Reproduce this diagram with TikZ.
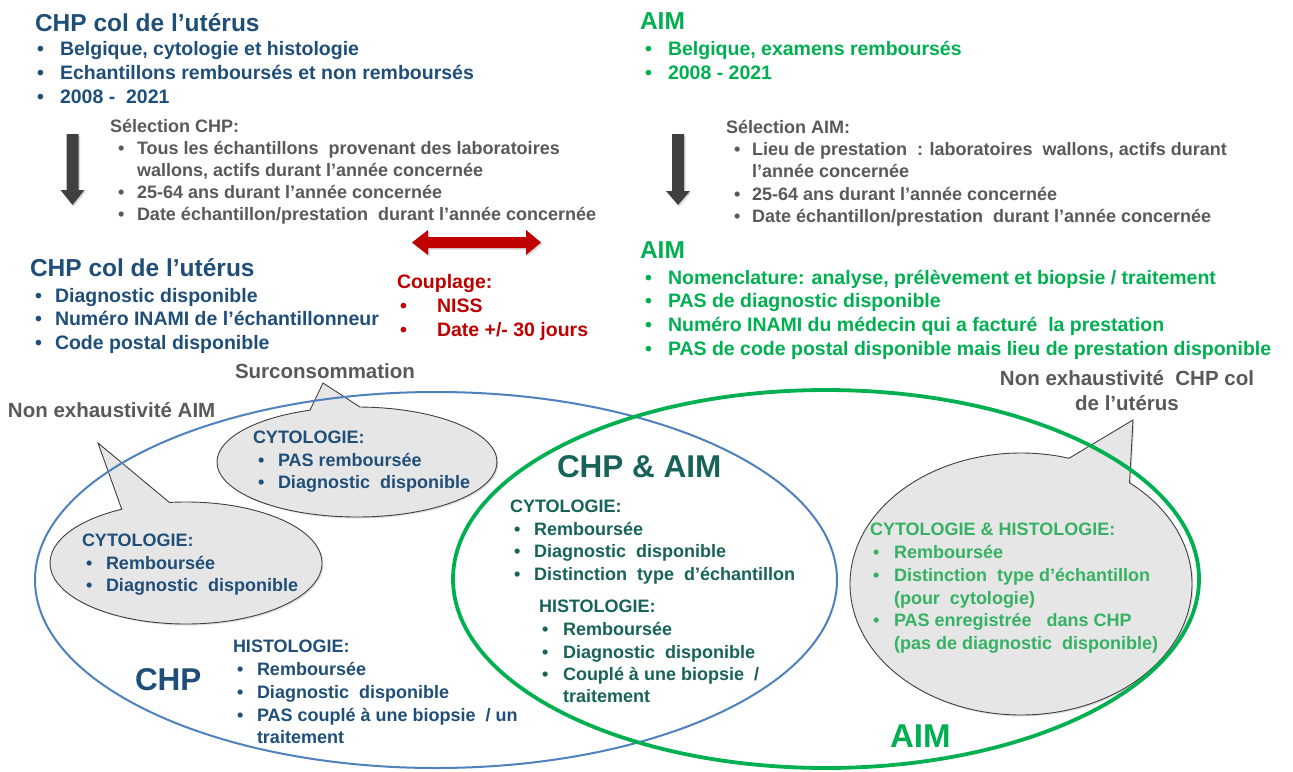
\documentclass[tikz,border=0pt]{standalone}
\usepackage{fontspec}
\setmainfont{Liberation Sans}
\usetikzlibrary{shadows}
\definecolor{cblue}{RGB}{31,78,121}
\definecolor{cgreen}{RGB}{0,176,80}
\definecolor{clgreen}{RGB}{52,178,98}
\definecolor{cteal}{RGB}{23,99,90}
\definecolor{cgray}{RGB}{89,89,89}
\definecolor{cred}{RGB}{192,0,0}
\definecolor{cline}{RGB}{79,129,189}
\definecolor{cbub}{RGB}{230,230,230}
\definecolor{cdark}{RGB}{64,64,64}
\newcommand\bitem[6]{\node[txt,#5] (#1b) at (#2,#4) {•};\node[txt,#5] (#1) at (#3,#4) {#6};}
\tikzset{
 txt/.style={anchor=base west, inner sep=0pt, outer sep=0pt},
 ttl/.style={font=\fontsize{24.5}{28}\selectfont\bfseries},
 fa/.style={font=\fontsize{19.5}{22}\selectfont\bfseries},
 fs/.style={font=\fontsize{18}{21}\selectfont\bfseries},
 fl/.style={font=\fontsize{20.5}{25}\selectfont\bfseries},
 fb/.style={font=\fontsize{18}{21}\selectfont\bfseries},
 fbig/.style={font=\fontsize{31.5}{34}\selectfont\bfseries},
 bubble/.style={fill=cbub, draw=cdark, line width=0.9pt, drop shadow={opacity=0.25, shadow xshift=1.5pt, shadow yshift=-1.5pt}},
 blockarrow/.style={fill=cdark, drop shadow={opacity=0.3, shadow xshift=1.5pt, shadow yshift=-1.5pt}},
}
\begin{document}
\begin{tikzpicture}[x=1pt,y=-1pt]
\useasboundingbox[fill=white] (0,0) rectangle (1293,771);

% bubbles
\path[bubble] (357,462) ++(-88.8:140 and 55) arc[start angle=-88.8, end angle=250.4, x radius=140, y radius=55] -- (323,383) -- cycle;
\path[bubble] (186,563) ++(-97:136 and 61) arc[start angle=-97, end angle=241.8, x radius=136, y radius=61] -- (98,443) -- cycle;
\path[bubble] (1021,584) ++(-50.6:171 and 131) arc[start angle=-50.6, end angle=286.3, x radius=171, y radius=131] -- (1133,420) -- cycle;

% ellipses
\draw[cline, line width=2pt] (436,580) ellipse[x radius=401, y radius=188];
\draw[cgreen, line width=3.8pt] (826,579) ellipse[x radius=373, y radius=189];

% block arrows
\path[blockarrow] (66.5,134) -- (78.5,134) -- (78.5,190) -- (84.5,190) -- (72.5,205) -- (60.5,190) -- (66.5,190) -- cycle;
\path[blockarrow] (672,134) -- (684,134) -- (684,191) -- (690,191) -- (678,205) -- (666,191) -- (672,191) -- cycle;
\path[fill=cred, drop shadow={opacity=0.3, shadow xshift=1.5pt, shadow yshift=-1.5pt}] (412,242.5) -- (428,230) -- (428,237) -- (526,237) -- (526,230) -- (541,242.5) -- (526,255) -- (526,248) -- (428,248) -- (428,255) -- cycle;

% top left
\node[txt,ttl,text=cblue] (chp1) at (35,31) {CHP col de l’utérus};
\bitem{chp1a}{37}{60}{55}{fa,text=cblue}{Belgique, cytologie et histologie}
\bitem{chp1b}{37}{60}{79}{fa,text=cblue}{Echantillons remboursés et non remboursés}
\bitem{chp1c}{37}{60}{103}{fa,text=cblue}{2008 -\ \ 2021}

% top right
\node[txt,ttl,text=cgreen] (aim1) at (640,29) {AIM};
\bitem{aim1a}{645}{668}{55}{fa,text=cgreen}{Belgique, examens remboursés}
\bitem{aim1b}{645}{668}{79}{fa,text=cgreen}{2008 - 2021}

% selection CHP
\node[txt,fs,text=cgray] (selc) at (110,132.5) {Sélection CHP:};
\bitem{selc1}{118}{137}{154.5}{fs,text=cgray}{Tous les échantillons\ \ provenant des laboratoires}
\node[txt,fs,text=cgray] (selc1x) at (137,176.5) {wallons, actifs durant l’année concernée};
\bitem{selc2}{118}{137}{198.5}{fs,text=cgray}{25-64 ans durant l’année concernée}
\bitem{selc3}{118}{137}{220.5}{fs,text=cgray}{Date échantillon/prestation\ \ durant l’année concernée}

% selection AIM
\node[txt,fs,text=cgray] (sela) at (726,133.5) {Sélection AIM:};
\bitem{sela1}{734}{752}{155.5}{fs,text=cgray}{Lieu de prestation\ \ : laboratoires\ \ wallons, actifs durant}
\node[txt,fs,text=cgray] (sela1x) at (752,177.5) {l’année concernée};
\bitem{sela2}{734}{752}{200.5}{fs,text=cgray}{25-64 ans durant l’année concernée}
\bitem{sela3}{734}{752}{222.5}{fs,text=cgray}{Date échantillon/prestation\ \ durant l’année concernée}

% couplage
\node[txt,fa,text=cred] (coup) at (397,288) {Couplage:};
\bitem{coup1}{400}{437}{312}{fa,text=cred}{NISS}
\bitem{coup2}{400}{437}{336}{fa,text=cred}{Date +/- 30 jours}

% middle left
\node[txt,ttl,text=cblue] (chp2) at (30,276) {CHP col de l’utérus};
\bitem{chp2a}{35}{55}{302}{fa,text=cblue}{Diagnostic disponible}
\bitem{chp2b}{35}{55}{325}{fa,text=cblue}{Numéro INAMI de l’échantillonneur}
\bitem{chp2c}{35}{55}{349}{fa,text=cblue}{Code postal disponible}

% middle right
\node[txt,ttl,text=cgreen] (aim2) at (640,258) {AIM};
\bitem{aim2a}{645}{668}{284}{fa,text=cgreen}{Nomenclature: analyse, prélèvement et biopsie / traitement}
\bitem{aim2b}{645}{668}{307}{fa,text=cgreen}{PAS de diagnostic disponible}
\bitem{aim2c}{645}{668}{331}{fa,text=cgreen}{Numéro INAMI du médecin qui a facturé\ \ la prestation}
\bitem{aim2d}{645}{668}{355}{fa,text=cgreen}{PAS de code postal disponible mais lieu de prestation disponible}

% gray labels
\node[txt,fl,text=cgray] (surc) at (235,378.5) {Surconsommation};
\node[txt,fl,text=cgray] (neaim) at (8,417.5) {Non exhaustivité AIM};
\node[fl,text=cgray,align=center,inner sep=0pt] (nechp) at (1127,391) {Non exhaustivité\ \ CHP col\\de l’utérus};

% bubble 1
\node[txt,fb,text=cblue] (b1h) at (253,443.5) {CYTOLOGIE:};
\bitem{b1a}{258}{278}{466.5}{fb,text=cblue}{PAS remboursée}
\bitem{b1b}{258}{278}{488.5}{fb,text=cblue}{Diagnostic\ \ disponible}

% bubble 2
\node[txt,fb,text=cblue] (b2h) at (82,546.5) {CYTOLOGIE:};
\bitem{b2a}{86}{106}{569.5}{fb,text=cblue}{Remboursée}
\bitem{b2b}{86}{106}{591.5}{fb,text=cblue}{Diagnostic\ \ disponible}

% bubble 3
\node[txt,fb,text=clgreen] (b3h) at (870,535.5) {CYTOLOGIE \& HISTOLOGIE:};
\bitem{b3a}{873}{894}{558.5}{fb,text=clgreen}{Remboursée}
\bitem{b3b}{873}{894}{581.5}{fb,text=clgreen}{Distinction\ \ type d’échantillon}
\node[txt,fb,text=clgreen] (b3bx) at (894,604.5) {(pour\ \ cytologie)};
\bitem{b3c}{873}{894}{626.5}{fb,text=clgreen}{PAS enregistrée\ \ \ dans CHP}
\node[txt,fb,text=clgreen] (b3cx) at (894,649.5) {(pas de diagnostic\ \ disponible)};

% CHP & AIM
\node[txt,fbig,text=cteal] (both) at (557,477) {CHP \& AIM};
\node[txt,fb,text=cteal] (bch) at (510,512.5) {CYTOLOGIE:};
\bitem{bc1}{514}{534}{535.5}{fb,text=cteal}{Remboursée}
\bitem{bc2}{514}{534}{557.5}{fb,text=cteal}{Diagnostic\ \ disponible}
\bitem{bc3}{514}{534}{580.5}{fb,text=cteal}{Distinction\ \ type\ \ d’échantillon}
\node[txt,fb,text=cteal] (bhh) at (539,612.5) {HISTOLOGIE:};
\bitem{bh1}{542}{563}{635.5}{fb,text=cteal}{Remboursée}
\bitem{bh2}{542}{563}{658.5}{fb,text=cteal}{Diagnostic\ \ disponible}
\bitem{bh3}{542}{563}{680.5}{fb,text=cteal}{Couplé à une biopsie\ \ /}
\node[txt,fb,text=cteal] (bh3x) at (563,702.5) {traitement};

% bottom left CHP
\node[txt,fbig,text=cblue] (chpbig) at (135,690) {CHP};
\node[txt,fb,text=cblue] (chh) at (233,652.5) {HISTOLOGIE:};
\bitem{ch1}{237}{257}{675.5}{fb,text=cblue}{Remboursée}
\bitem{ch2}{237}{257}{698.5}{fb,text=cblue}{Diagnostic\ \ disponible}
\bitem{ch3}{237}{257}{721.5}{fb,text=cblue}{PAS couplé à une biopsie\ \ / un}
\node[txt,fb,text=cblue] (ch3x) at (257,743.5) {traitement};

% AIM big
\node[txt,font=\fontsize{33}{36}\selectfont\bfseries,text=cgreen] (aimbig) at (890,747) {AIM};
\end{tikzpicture}
\end{document}
